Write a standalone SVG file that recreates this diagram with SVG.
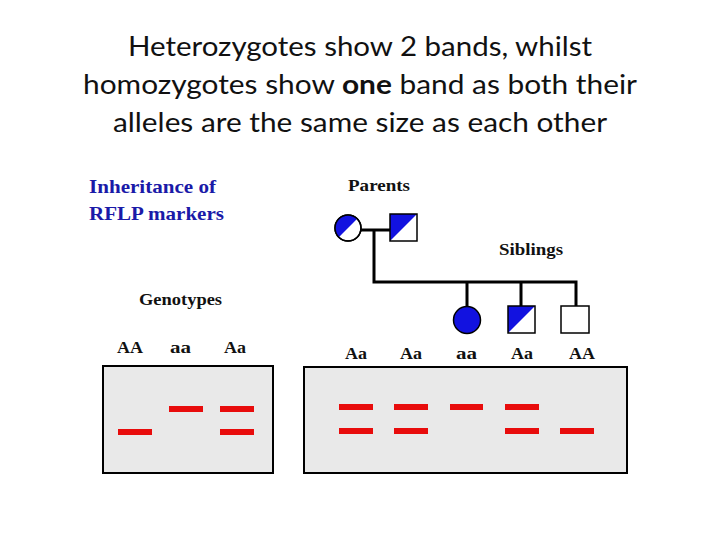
<svg xmlns="http://www.w3.org/2000/svg" width="720" height="540" viewBox="0 0 720 540">
<style>
.title{font-family:Lato,"Open Sans","Liberation Sans",sans-serif;font-size:27px;fill:#111;text-anchor:middle}
.blue{font-family:"Liberation Serif",serif;font-weight:bold;font-size:19px;fill:#1a1aa8}
.lab{font-family:"Liberation Serif",serif;font-weight:bold;font-size:17px;fill:#111}
.gel{fill:#e9e9e9;stroke:#000;stroke-width:2}
.band{fill:#e80c0c}
.ln{stroke:#000;stroke-width:3;fill:none}
.sym{stroke:#000;stroke-width:1.5}
</style>
<rect width="720" height="540" fill="#fff"/>
<g id="title">
<text class="title" x="360" y="56" textLength="464" lengthAdjust="spacingAndGlyphs">Heterozygotes show 2 bands, whilst</text>
<text class="title" x="360" y="94" textLength="554" lengthAdjust="spacingAndGlyphs">homozygotes show <tspan font-weight="bold">one</tspan> band as both their</text>
<text class="title" x="360" y="132" textLength="494" lengthAdjust="spacingAndGlyphs">alleles are the same size as each other</text>
</g>
<g id="heading">
<text class="blue" x="89" y="193" textLength="127" lengthAdjust="spacingAndGlyphs">Inheritance of</text>
<text class="blue" x="89" y="220" textLength="135" lengthAdjust="spacingAndGlyphs">RFLP markers</text>
</g>
<g id="labels">
<text class="lab" x="348" y="191" font-size="15" textLength="62" lengthAdjust="spacingAndGlyphs">Parents</text>
<text class="lab" x="499" y="255" font-size="15" textLength="64" lengthAdjust="spacingAndGlyphs">Siblings</text>
<text class="lab" x="139" y="305" font-size="15" textLength="83" lengthAdjust="spacingAndGlyphs">Genotypes</text>
<text class="lab" x="117" y="353" textLength="26" lengthAdjust="spacingAndGlyphs">AA</text>
<text class="lab" x="170" y="353" textLength="21" lengthAdjust="spacingAndGlyphs">aa</text>
<text class="lab" x="224" y="353" textLength="22" lengthAdjust="spacingAndGlyphs">Aa</text>
<text class="lab" x="345" y="359" textLength="22" lengthAdjust="spacingAndGlyphs">Aa</text>
<text class="lab" x="400" y="359" textLength="22" lengthAdjust="spacingAndGlyphs">Aa</text>
<text class="lab" x="456" y="359" textLength="21" lengthAdjust="spacingAndGlyphs">aa</text>
<text class="lab" x="511" y="359" textLength="22" lengthAdjust="spacingAndGlyphs">Aa</text>
<text class="lab" x="569" y="359" textLength="26" lengthAdjust="spacingAndGlyphs">AA</text>
</g>
<g id="connectors">
<path class="ln" d="M361 230H390M374 230V282M372.5 282H577.5M467 282V306M521 282V306M576 282V306"/>
</g>
<g id="mother">
<circle cx="348" cy="228" r="13" fill="#fff" class="sym"/>
<path d="M338.8 237.2A13 13 0 0 1 357.2 218.8Z" fill="#1212e0"/>
<circle cx="348" cy="228" r="13" fill="none" class="sym"/>
</g>
<g id="father">
<rect x="390" y="214" width="27" height="27" fill="#fff"/>
<path d="M390 214H417L390 241Z" fill="#1212e0"/>
<rect x="390" y="214" width="27" height="27" fill="none" class="sym"/>
</g>
<g id="sibling1">
<circle cx="467" cy="320" r="13.5" fill="#1212e0" class="sym"/>
</g>
<g id="sibling2">
<rect x="508" y="306" width="27" height="27" fill="#fff"/>
<path d="M508 306H535L508 333Z" fill="#1212e0"/>
<rect x="508" y="306" width="27" height="27" fill="none" class="sym"/>
</g>
<g id="sibling3">
<rect x="561" y="306" width="28" height="27" fill="#fff" class="sym"/>
</g>
<g id="gel-left">
<rect class="gel" x="103" y="366" width="170" height="107"/>
<rect class="band" x="118" y="429" width="34" height="6"/>
<rect class="band" x="169" y="406" width="34" height="6"/>
<rect class="band" x="220" y="406" width="34" height="6"/>
<rect class="band" x="220" y="429" width="34" height="6"/>
</g>
<g id="gel-right">
<rect class="gel" x="304" y="367" width="323" height="106"/>
<rect class="band" x="339" y="404" width="34" height="6"/>
<rect class="band" x="339" y="428" width="34" height="6"/>
<rect class="band" x="394" y="404" width="34" height="6"/>
<rect class="band" x="394" y="428" width="34" height="6"/>
<rect class="band" x="450" y="404" width="33" height="6"/>
<rect class="band" x="505" y="404" width="34" height="6"/>
<rect class="band" x="505" y="428" width="34" height="6"/>
<rect class="band" x="560" y="428" width="34" height="6"/>
</g>
</svg>
